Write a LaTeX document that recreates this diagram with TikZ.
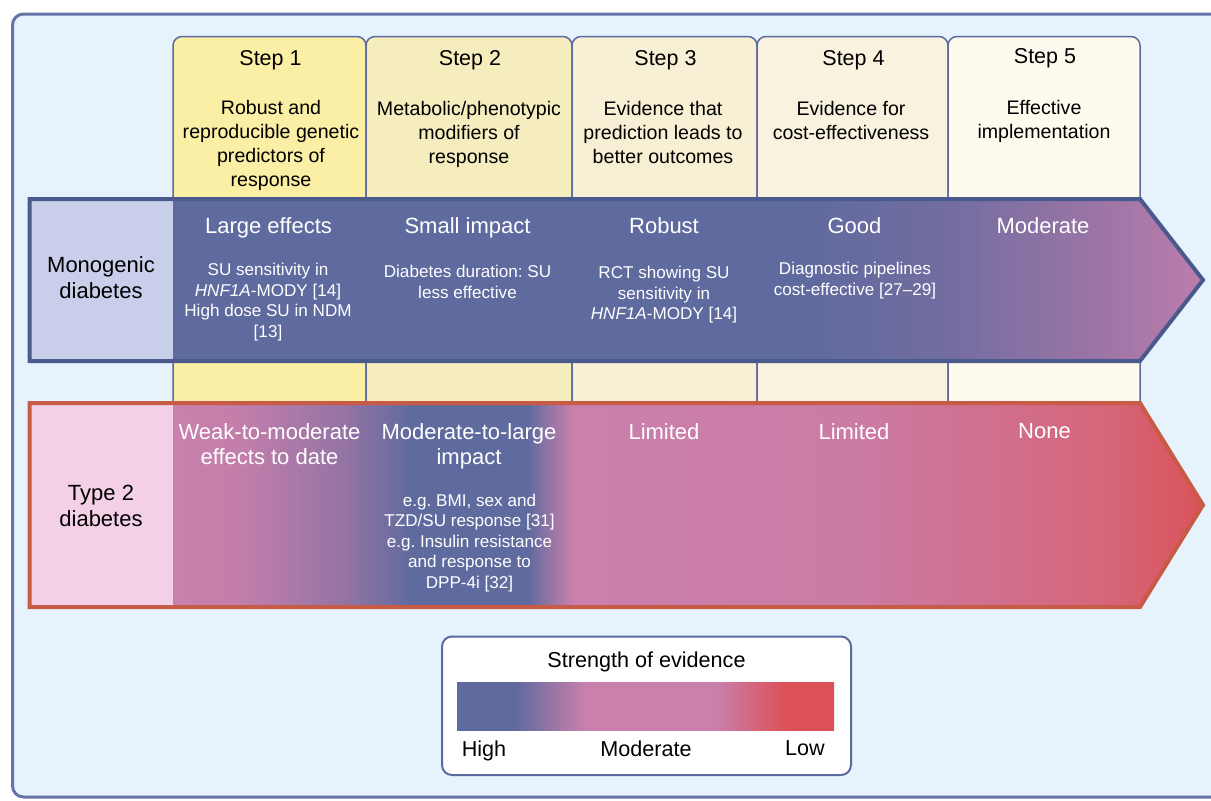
\documentclass[tikz,border=0pt]{standalone}
\usepackage{fontspec}
\setmainfont{Liberation Sans}
\usepackage{xcolor}
\usepackage{tikz}
\usetikzlibrary{positioning}
\frenchspacing

\definecolor{framefill}{HTML}{E7F3FC}
\definecolor{frameline}{HTML}{6673A8}
\definecolor{tabline}{HTML}{5C6AA0}
\definecolor{stepA}{HTML}{FBEEA5}
\definecolor{stepB}{HTML}{F6EDBF}
\definecolor{stepC}{HTML}{F8F0D4}
\definecolor{stepD}{HTML}{F8F2DF}
\definecolor{stepE}{HTML}{FEFAEE}
\definecolor{monolabel}{HTML}{C9CFEA}
\definecolor{monoline}{HTML}{4A5A8C}
\definecolor{typelabel}{HTML}{F3D0E6}
\definecolor{typeline}{HTML}{C75B45}
\definecolor{evblue}{HTML}{5F6A9E}
\definecolor{evpink}{HTML}{C980AC}
\definecolor{evred}{HTML}{DC5157}
\definecolor{monomid}{HTML}{736DA0}
\definecolor{monolate}{HTML}{9C75A6}
\definecolor{monotip}{HTML}{BC7DAC}
\definecolor{typeA}{HTML}{C27EAA}
\definecolor{typeB}{HTML}{9574A5}
\definecolor{typeC}{HTML}{CB7CA4}
\definecolor{typeD}{HTML}{CF7395}
\definecolor{typeE}{HTML}{D5667B}
\definecolor{typetip}{HTML}{DA535A}

% shadings: the part from 25bp to 75bp covers the path
\pgfdeclarehorizontalshading{monoshade}{100bp}{color(0bp)=(evblue); color(25bp)=(evblue);
  color(55.4bp)=(evblue); color(62.7bp)=(monomid); color(70bp)=(monolate);
  color(75bp)=(monotip); color(100bp)=(monotip)}
\pgfdeclarehorizontalshading{typeshade}{100bp}{color(0bp)=(evpink); color(25bp)=(evpink);
  color(28.3bp)=(typeA); color(33.25bp)=(typeB); color(36.65bp)=(evblue); color(42.2bp)=(evblue);
  color(44.4bp)=(evpink); color(57.9bp)=(typeC); color(62.7bp)=(typeD); color(70bp)=(typeE);
  color(75bp)=(typetip); color(100bp)=(typetip)}
\pgfdeclarehorizontalshading{evshade}{100bp}{color(0bp)=(evblue); color(25bp)=(evblue);
  color(32.7bp)=(evblue); color(42bp)=(evpink); color(59.2bp)=(evpink);
  color(68.5bp)=(evred); color(75bp)=(evred); color(100bp)=(evred)}

\tikzset{
  tabbox/.style={draw=tabline, line width=0.75pt, rounded corners=4.5pt},
  steptitle/.style={anchor=north, inner sep=0pt, font=\fontsize{10.75}{13}\selectfont},
  stepdesc/.style={anchor=north, inner sep=0pt, align=center, font=\fontsize{9.8}{12}\selectfont},
  rowhead/.style={anchor=north, inner sep=0pt, align=center, text=white, font=\fontsize{11}{12.5}\selectfont},
  rownote/.style={anchor=north, inner sep=0pt, align=center, text=white, font=\fontsize{8.55}{10.25}\selectfont},
  rowlabel/.style={inner sep=0pt, align=center, font=\fontsize{11}{13}\selectfont},
  legendtext/.style={anchor=north, inner sep=0pt, font=\fontsize{10.8}{13}\selectfont},
}

\begin{document}
\begin{tikzpicture}[x=0.5pt, y=-0.5pt]
    \useasboundingbox (0,0) rectangle (1211,800);
    \clip (0,0) rectangle (1211,800);

    % Outer frame
    \draw[fill=framefill, draw=frameline, line width=1.5pt, rounded corners=5.5pt] (12.5,14) rectangle (1260,797);

    % Step tabs
    \foreach \i/\xa/\xb/\ty/\tabcol in {1/173/366/50/stepA, 2/366/572/50/stepB, 3/572/757/50/stepC,
                                        4/757/948/50/stepD, 5/948/1140/48/stepE} {
        \filldraw[tabbox, fill=\tabcol] (\xa,402) -- (\xa,36.5) -- (\xb,36.5) -- (\xb,402);
        \node[steptitle] (step\i) at ({(\xa+\xb)/2+1},\ty) {Step \i};
    }
    \node[stepdesc] (desc1) at (271,99.5) {Robust and\\reproducible genetic\\predictors of\\response};
    \node[stepdesc] (desc2) at (469,101) {Metabolic/phenotypic\\modifiers of\\response};
    \node[stepdesc] (desc3) at (663,101) {Evidence that\\prediction leads to\\better outcomes};
    \node[stepdesc] (desc4) at (851,101) {Evidence for\\cost-effectiveness};
    \node[stepdesc] (desc5) at (1044,99.5) {Effective\\implementation};

    % Monogenic row
    \fill[monolabel] (29.5,199) rectangle (173,361);
    \shade[shading=monoshade] (173,199) -- (1140,199) -- (1203,280) -- (1140,361) -- (173,361) -- cycle;
    \draw[monoline, line width=2pt] (29.5,199) -- (1140,199) -- (1203,280) -- (1140,361) -- (29.5,361) -- cycle;
    \node[rowlabel] (monolab) at (101,278) {Monogenic\\diabetes};

    \node[rowhead] (mono1) at (268.5,217.5) {Large effects};
    \node[rowhead] (mono2) at (467.5,217.5) {Small impact};
    \node[rowhead] (mono3) at (664,217.5) {Robust};
    \node[rowhead] (mono4) at (854.5,217.5) {Good};
    \node[rowhead] (mono5) at (1043,217.5) {Moderate};

    \node[rownote] (mnote1) at (268,263) {SU sensitivity in\\\textit{HNF1A}-MODY [14]\\High dose SU in NDM\\{}[13]};
    \node[rownote] (mnote2) at (467.5,265) {Diabetes duration: SU\\less effective};
    \node[rownote] (mnote3) at (664,266) {RCT showing SU\\sensitivity in\\\textit{HNF1A}-MODY [14]};
    \node[rownote] (mnote4) at (855,262) {Diagnostic pipelines\\cost-effective [27--29]};

    % Type 2 row
    \fill[typelabel] (29.5,403) rectangle (173,607);
    \shade[shading=typeshade] (173,403) -- (1140,403) -- (1203,505) -- (1140,607) -- (173,607) -- cycle;
    \draw[typeline, line width=2pt] (29.5,403) -- (1140,403) -- (1203,505) -- (1140,607) -- (29.5,607) -- cycle;
    \node[rowlabel] (typelab) at (101,506) {Type 2\\diabetes};

    \node[rowhead] (type1) at (269.5,423.3) {Weak-to-moderate\\effects to date};
    \node[rowhead] (type2) at (469,423.3) {Moderate-to-large\\impact};
    \node[rowhead] (type3) at (664,423.3) {Limited};
    \node[rowhead] (type4) at (854,423.3) {Limited};
    \node[rowhead] (type5) at (1044.5,423.3) {None};

    \node[rownote] (tnote2) at (469.5,493.3) {e.g. BMI, sex and\\TZD/SU response [31]\\e.g. Insulin resistance\\and response to\\DPP-4i [32]};

    % Legend
    \draw[fill=white, draw=tabline, line width=1pt, rounded corners=5pt] (442,636.5) rectangle (851,775);
    \shade[shading=evshade] (457,682) rectangle (834,730.5);
    \node[legendtext] (evtitle) at (646.5,651.7) {Strength of evidence};
    \node[legendtext] (evhigh) at (484,740) {High};
    \node[legendtext] (evmod) at (646,740) {Moderate};
    \node[legendtext] (evlow) at (805,740) {Low};
\end{tikzpicture}
\end{document}
